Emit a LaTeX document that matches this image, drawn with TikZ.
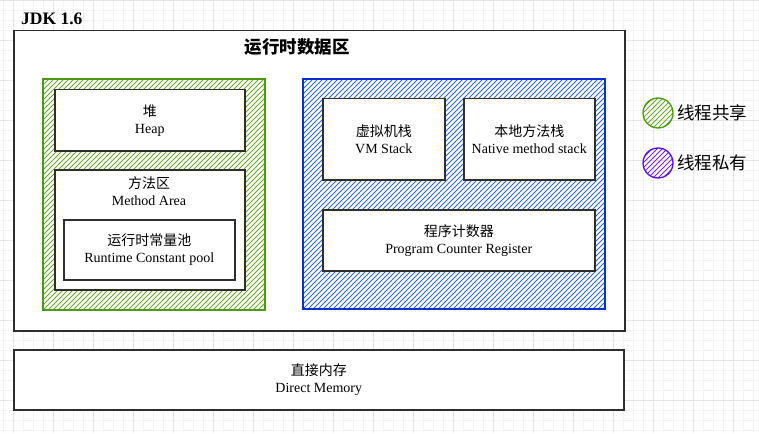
\documentclass[tikz,border=0pt]{standalone}
\usepackage{fontspec}
\setmainfont{Liberation Serif}
\newfontfamily\cjk{Noto Sans CJK SC}
\usetikzlibrary{calc}
\definecolor{gfill}{HTML}{64AA22}
\definecolor{gline}{HTML}{4D9A12}
\definecolor{bfill}{HTML}{2A66F0}
\definecolor{bline}{HTML}{0A2FD0}
\definecolor{pfill}{HTML}{7A22FF}
\definecolor{pline}{HTML}{5A10E0}
\definecolor{gridmaj}{HTML}{E6E6E6}
\definecolor{gridmin}{HTML}{F3F3F3}
\begin{document}
\begin{tikzpicture}[x=1pt,y=-1pt,
  box/.style={draw=black!82, line width=1.5pt, fill=white, align=center, inner sep=0pt,
    anchor=north west, font=\fontsize{14}{17}\selectfont},
  txt/.style={align=center, inner sep=0pt, font=\fontsize{14}{17}\selectfont},
  region/.style={anchor=north west, inner sep=0pt, line width=1pt},
  hline/.style={line width=1pt},
  legend/.style={anchor=west, inner sep=0pt, font=\cjk\fontsize{17.5}{19}\selectfont}]
\useasboundingbox (0,0) rectangle (759,433);
\fill[white] (0,0) rectangle (759,433);
% background grid
\foreach \x in {3,13,...,753} \draw[gridmin, line width=0.5pt] (\x,0) -- (\x,433);
\foreach \y in {0,10,...,430} \draw[gridmin, line width=0.5pt] (0,\y) -- (759,\y);
\foreach \x in {13,53,...,753} \draw[gridmaj, line width=0.7pt] (\x,0) -- (\x,433);
\foreach \y in {0,40,...,430} \draw[gridmaj, line width=0.7pt] (0,\y) -- (759,\y);

% title
\node[anchor=west, inner sep=0pt, font=\bfseries\fontsize{17.5}{20}\selectfont] (jdk) at (21,19) {JDK 1.6};

% runtime data area
\node[box, minimum width=611, minimum height=300] (rda) at (13,30) {};
\node[inner sep=0pt, font=\cjk\bfseries\fontsize{17.5}{19}\selectfont] (rdatitle) at (297,47) {运行时数据区};

% shared (green) region
\node[region, minimum width=221, minimum height=230] (shared) at (43,79) {};
\begin{scope}
  \clip (shared.north west) rectangle (shared.south east);
  \foreach \k in {-240,-235,...,240}
    \draw[hline, gfill] ($(shared.south west)+(\k,0)$) -- ++(240,-240);
\end{scope}
\draw[gline, line width=1.1pt] (shared.north west) rectangle (shared.south east);
\node[box, minimum width=190, minimum height=61] (heap) at (54,89) {{\cjk 堆}\\Heap};
\node[box, minimum width=190, minimum height=120] (ma) at (54,169) {};
\node[txt] (malabel) at (149,191) {{\cjk 方法区}\\Method Area};
\node[box, minimum width=171, minimum height=60] (rcp) at (63,219) {{\cjk 运行时常量池}\\Runtime Constant pool};

% private (blue) region
\node[region, minimum width=301, minimum height=229] (private) at (303,79) {};
\begin{scope}
  \clip (private.north west) rectangle (private.south east);
  \foreach \k in {-240,-235,...,310}
    \draw[hline, bfill] ($(private.south west)+(\k,0)$) -- ++(240,-240);
\end{scope}
\draw[bline, line width=1.1pt] (private.north west) rectangle (private.south east);
\node[box, minimum width=122, minimum height=81] (vms) at (322,98) {{\cjk 虚拟机栈}\\VM Stack};
\node[box, minimum width=131, minimum height=81] (nms) at (463,98) {{\cjk 本地方法栈}\\Native method stack};
\node[box, minimum width=272, minimum height=61] (pcr) at (322,209) {{\cjk 程序计数器}\\Program Counter Register};

% direct memory
\node[box, minimum width=610, minimum height=60] (dm) at (13,349) {{\cjk 直接内存}\\Direct Memory};

% legend
\node[circle, minimum size=30, inner sep=0pt] (lg) at (658,113) {};
\begin{scope}
  \clip (lg.center) circle (15);
  \foreach \k in {-30,-25,...,30}
    \draw[hline, gfill] ($(lg.center)+(\k-20,20)$) -- ++(40,-40);
\end{scope}
\draw[gline, line width=1.3pt] (lg.center) circle (15);
\node[legend] (lgt) at (677,113) {线程共享};
\node[circle, minimum size=30, inner sep=0pt] (lp) at (658,163) {};
\begin{scope}
  \clip (lp.center) circle (15);
  \foreach \k in {-30,-25,...,30}
    \draw[hline, pfill] ($(lp.center)+(\k-20,20)$) -- ++(40,-40);
\end{scope}
\draw[pline, line width=1.3pt] (lp.center) circle (15);
\node[legend] (lpt) at (677,163) {线程私有};
\end{tikzpicture}
\end{document}
